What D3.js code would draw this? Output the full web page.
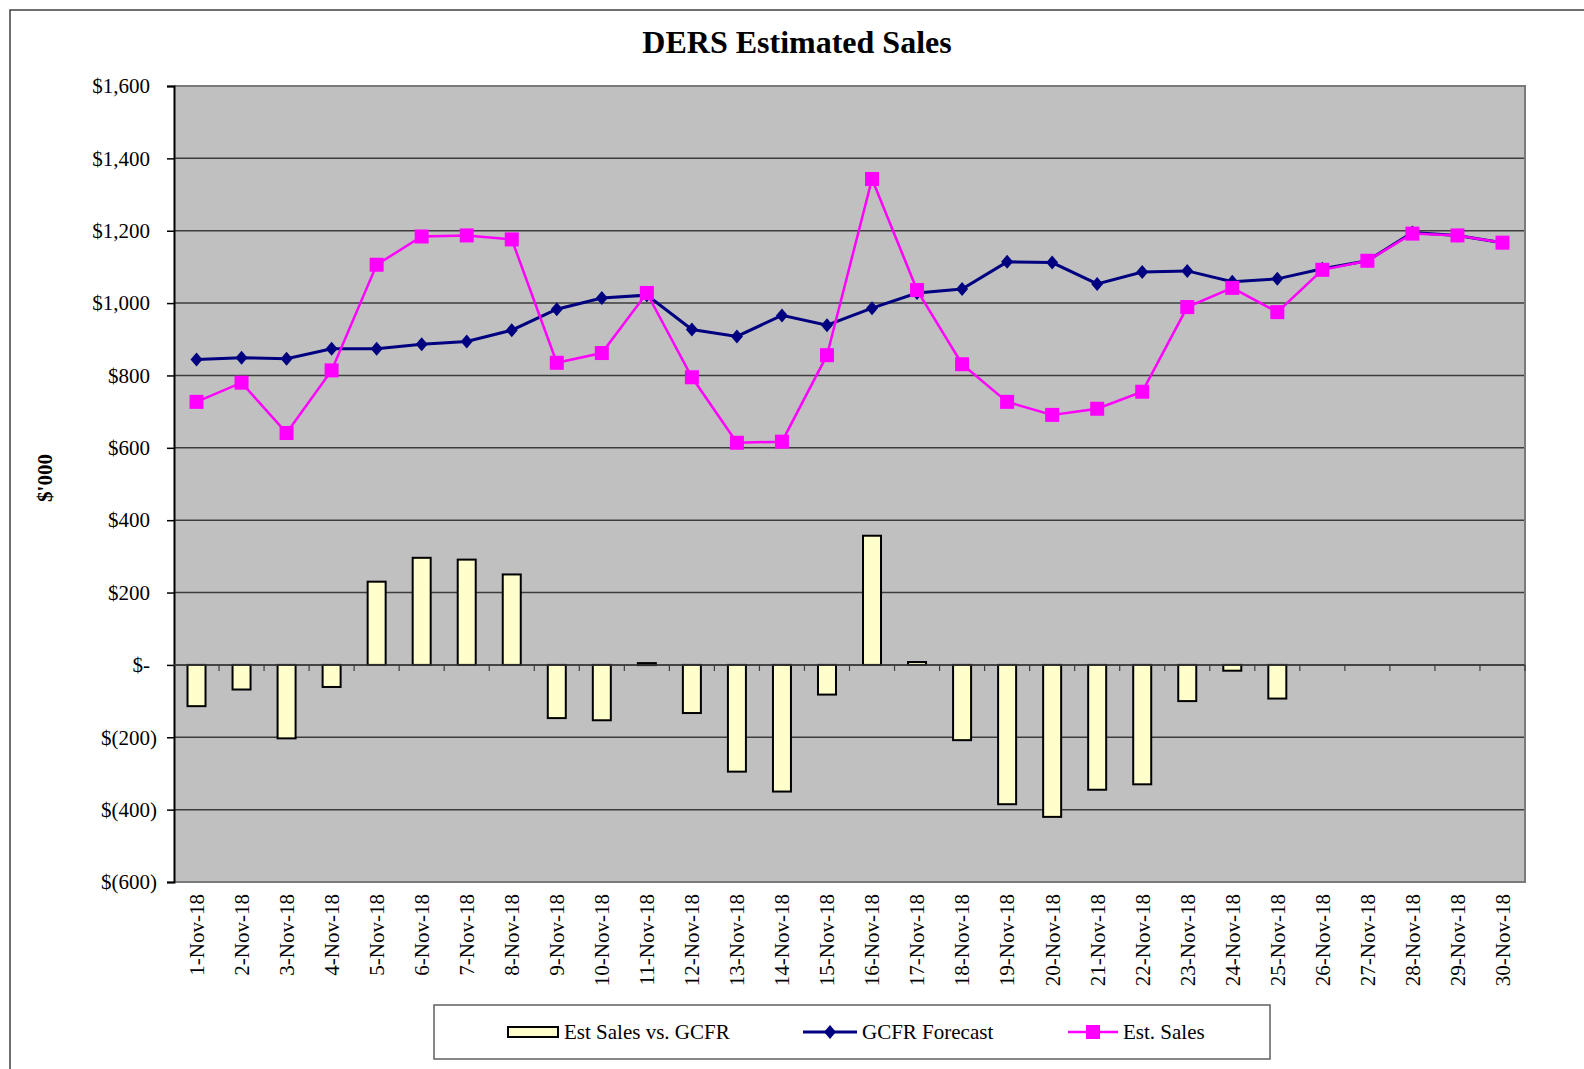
<!DOCTYPE html>
<html>
  <head>
    <meta charset="utf-8">
    <script src="https://d3js.org/d3.v7.min.js"></script>
    <title>DERS Estimated Sales</title>
    <style>
      body {
        margin: 0;
        background: #fff;
      }
      svg text {
        font-family: "Liberation Serif", "Times New Roman", serif;
        fill: #000;
      }
      .tick text {
        font-size: 21px;
      }
      .chart-title {
        font-size: 32px;
        font-weight: bold;
      }
      .axis-label {
        font-size: 21px;
        font-weight: bold;
      }
      .legend text {
        font-size: 21px;
      }
    </style>
  </head>
  <body>
    <svg width="1584" height="1069"></svg>
    <script>
      // data ($'000)
      const days = d3.range(1, 31).map(d => d + '-Nov-18');
      const gcfrForecast = [844, 849, 846, 874, 874, 886, 894, 925, 983, 1014,
        1022, 927, 908, 966, 939, 986, 1028, 1039, 1114, 1112,
        1053, 1086, 1089, 1059, 1067, 1095, 1117, 1195, 1187, 1167];
      const estSales = [727, 780, 641, 814, 1106, 1184, 1187, 1176, 835, 862,
        1028, 795, 614, 617, 856, 1343, 1036, 831, 727, 691,
        708, 755, 989, 1042, 975, 1092, 1117, 1192, 1187, 1167];
      const estVsGcfr = [-114, -68, -203, -61, 230, 296, 291, 250, -147, -153,
        5, -133, -295, -350, -82, 357, 8, -208, -385, -420,
        -345, -330, -100, -16, -93, null, null, null, null, null];
      const yTicks = d3.range(-600, 1601, 200);
      const seriesNames = ['Est Sales vs. GCFR', 'GCFR Forecast', 'Est. Sales'];

      const svg = d3.select('svg');
      const margin = {left: 174, top: 86, right: 59, bottom: 187};
      const width = +svg.attr('width');
      const height = +svg.attr('height');
      const innerWidth = width - margin.left - margin.right;
      const innerHeight = height - margin.top - margin.bottom;

      // outer chart frame (bottom / right run off the page)
      svg.append('path')
        .attr('d', 'M10,1069V10H1584')
        .attr('fill', 'none')
        .attr('stroke', '#404040')
        .attr('stroke-width', 1.5);

      svg.append('text')
        .attr('class', 'chart-title')
        .attr('x', 797)
        .attr('y', 53)
        .attr('text-anchor', 'middle')
        .text('DERS Estimated Sales');

      svg.append('text')
        .attr('class', 'axis-label')
        .attr('transform', 'translate(45, 478) rotate(-90)')
        .attr('text-anchor', 'middle')
        .attr('dy', '0.35em')
        .text("$'000");

      const g = svg.append('g')
        .attr('transform', `translate(${margin.left}, ${margin.top})`);

      const xScale = d3.scaleBand()
        .domain(days)
        .range([0, innerWidth]);
      const yScale = d3.scaleLinear()
        .domain([-600, 1600])
        .range([innerHeight, 0]);

      // plot background
      g.append('rect')
        .attr('width', innerWidth)
        .attr('height', innerHeight)
        .attr('fill', '#c0c0c0');

      // gridlines
      g.append('g')
        .selectAll('line').data(yTicks.filter(v => v > -600 && v < 1600))
        .enter().append('line')
          .attr('x1', 0).attr('x2', innerWidth)
          .attr('y1', d => yScale(d)).attr('y2', d => yScale(d))
          .attr('stroke', '#3c3c3c')
          .attr('stroke-width', 1.5);

      // frame of plot area
      g.append('path')
        .attr('d', `M0,0H${innerWidth}V${innerHeight}H0`)
        .attr('fill', 'none')
        .attr('stroke', '#7a7a7a')
        .attr('stroke-width', 2);

      const money = d3.format(',');
      const yAxis = d3.axisLeft(yScale)
        .tickValues(yTicks)
        .tickSize(7)
        .tickPadding(10)
        .tickFormat(v => v === 0 ? '$-' : v < 0 ? `$(${money(-v)})` : `$${money(v)}`);
      const yAxisG = g.append('g').call(yAxis);
      yAxisG.select('.domain').attr('stroke', '#000').attr('stroke-width', 2);
      yAxisG.selectAll('.tick line').attr('stroke', '#000').attr('stroke-width', 1.5);
      // accounting style: pad non-negative labels by the width of ")"
      yAxisG.selectAll('.tick text')
        .filter(d => d >= 0)
        .append('tspan')
          .attr('fill-opacity', 0)
          .text(')');

      // bars
      const barWidth = 18;
      g.append('g')
        .selectAll('rect').data(estVsGcfr.map((v, i) => ({day: days[i], v})).filter(d => d.v !== null))
        .enter().append('rect')
          .attr('x', d => xScale(d.day) + xScale.bandwidth() / 2 - barWidth / 2)
          .attr('y', d => yScale(Math.max(0, d.v)))
          .attr('width', barWidth)
          .attr('height', d => Math.max(2, Math.abs(yScale(d.v) - yScale(0))))
          .attr('fill', '#ffffcc')
          .attr('stroke', '#000')
          .attr('stroke-width', 2);

      // category axis crossing at zero
      const zeroY = yScale(0);
      g.append('line')
        .attr('x1', 0).attr('x2', innerWidth)
        .attr('y1', zeroY).attr('y2', zeroY)
        .attr('stroke', '#3c3c3c')
        .attr('stroke-width', 1.5);
      g.append('g')
        .selectAll('line').data(days.slice(1).concat(['end']))
        .enter().append('line')
          .attr('x1', d => d === 'end' ? innerWidth : xScale(d))
          .attr('x2', d => d === 'end' ? innerWidth : xScale(d))
          .attr('y1', zeroY).attr('y2', zeroY + 6)
          .attr('stroke', '#3c3c3c')
          .attr('stroke-width', 1.2);

      // category labels at the bottom
      g.append('g')
        .selectAll('text').data(days)
        .enter().append('text')
          .attr('class', 'x-label')
          .attr('transform', d => `translate(${xScale(d) + xScale.bandwidth() / 2}, ${innerHeight + 12}) rotate(-90)`)
          .attr('text-anchor', 'end')
          .attr('dy', '0.35em')
          .style('font-size', '21px')
          .text(d => d);

      const cx = d => xScale(d) + xScale.bandwidth() / 2;

      // GCFR forecast line
      const seriesLine = d3.line()
        .x((d, i) => cx(days[i]))
        .y(d => yScale(d));
      g.append('path')
        .datum(gcfrForecast)
        .attr('d', seriesLine)
        .attr('fill', 'none')
        .attr('stroke', '#000080')
        .attr('stroke-width', 3);
      const diamond = 'M0,-7L6,0L0,7L-6,0Z';
      g.append('g')
        .selectAll('path').data(gcfrForecast)
        .enter().append('path')
          .attr('transform', (d, i) => `translate(${cx(days[i])}, ${yScale(d)})`)
          .attr('d', diamond)
          .attr('fill', '#000080');

      // Est. sales line
      g.append('path')
        .datum(estSales)
        .attr('d', seriesLine)
        .attr('fill', 'none')
        .attr('stroke', '#ff00ff')
        .attr('stroke-width', 2.5);
      g.append('g')
        .selectAll('rect').data(estSales)
        .enter().append('rect')
          .attr('x', (d, i) => cx(days[i]) - 7)
          .attr('y', d => yScale(d) - 7)
          .attr('width', 14).attr('height', 14)
          .attr('fill', '#ff00ff');

      // legend
      const legend = svg.append('g').attr('class', 'legend');
      legend.append('rect')
        .attr('x', 434).attr('y', 1005)
        .attr('width', 836).attr('height', 54)
        .attr('fill', '#fff')
        .attr('stroke', '#606060')
        .attr('stroke-width', 1.5);
      const ly = 1032;
      legend.append('rect')
        .attr('x', 508).attr('y', ly - 5)
        .attr('width', 50).attr('height', 10)
        .attr('fill', '#ffffcc')
        .attr('stroke', '#000')
        .attr('stroke-width', 2);
      legend.append('line')
        .attr('x1', 803).attr('x2', 857).attr('y1', ly).attr('y2', ly)
        .attr('stroke', '#000080').attr('stroke-width', 3);
      legend.append('path')
        .attr('transform', `translate(830, ${ly})`)
        .attr('d', diamond)
        .attr('fill', '#000080');
      legend.append('line')
        .attr('x1', 1068).attr('x2', 1118).attr('y1', ly).attr('y2', ly)
        .attr('stroke', '#ff00ff').attr('stroke-width', 2.5);
      legend.append('rect')
        .attr('x', 1086).attr('y', ly - 7)
        .attr('width', 14).attr('height', 14)
        .attr('fill', '#ff00ff');
      legend.selectAll('text.item').data(seriesNames)
        .enter().append('text')
          .attr('class', 'item')
          .attr('x', (d, i) => [564, 862, 1123][i])
          .attr('y', ly)
          .attr('dy', '0.35em')
          .text(d => d);
    </script>
  </body>
</html>
